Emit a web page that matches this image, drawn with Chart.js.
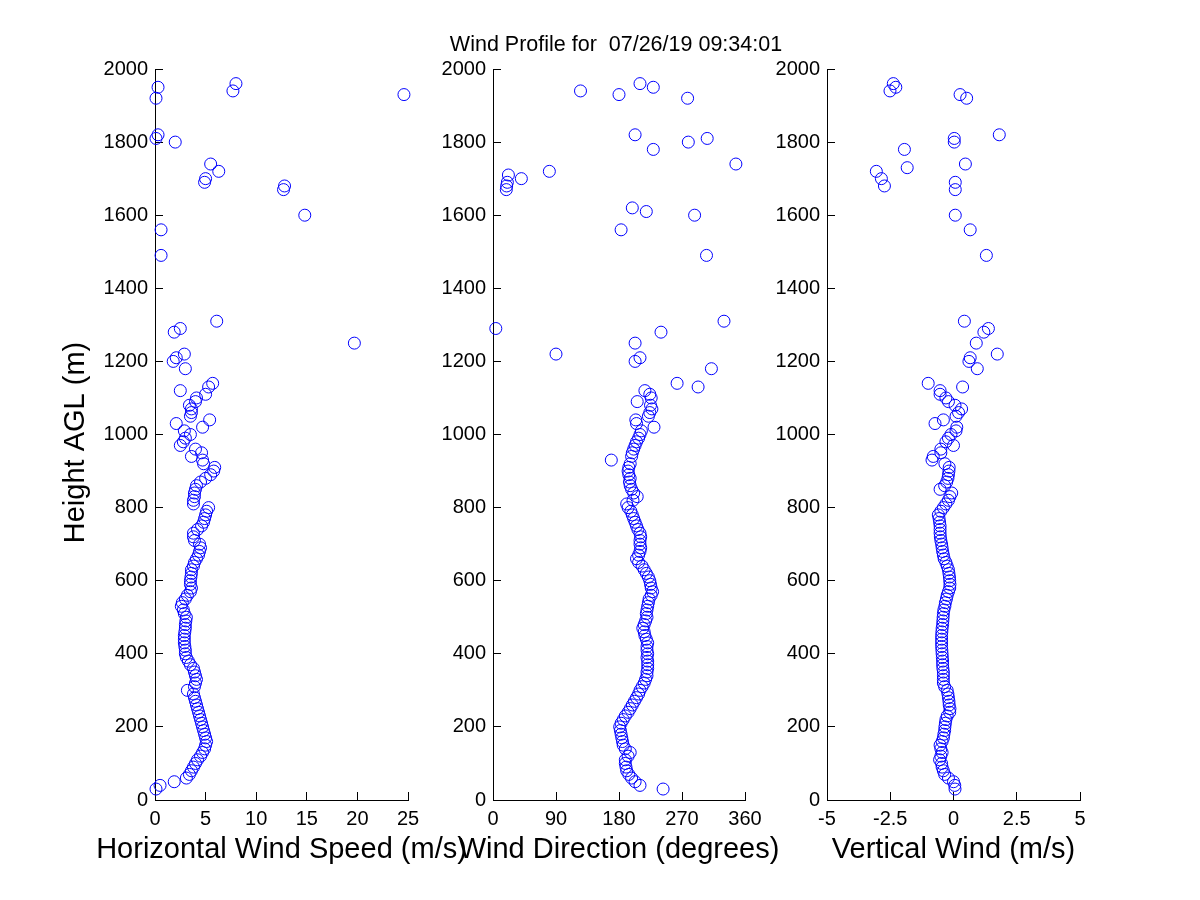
<!DOCTYPE html>
<html>
<head>
<meta charset="utf-8">
<script src="https://cdn.jsdelivr.net/npm/chart.js@4.4.1/dist/chart.umd.min.js"></script>
<style>
    body { margin: 0; background: #fff; }
    #wrap { position: relative; width: 1200px; height: 900px; }
    #wrap canvas { position: absolute; left: 0; top: 0; }
</style>
</head>
<body>
<div id="wrap">
    <canvas id="speedChart" width="1200" height="900"></canvas>
    <canvas id="dirChart" width="1200" height="900"></canvas>
    <canvas id="vertChart" width="1200" height="900"></canvas>
</div>
<script>
// Range gates of the dense lower profile (m AGL)
const lowHeights = [
    30, 40, 50, 60, 70, 80, 90, 100,
    110, 120, 130, 140, 150, 160, 170, 180, 190, 200,
    210, 220, 230, 240, 250, 260, 270, 280, 290, 300,
    310, 320, 330, 340, 350, 360, 370, 380, 390, 400,
    410, 420, 430, 440, 450, 460, 470, 480, 490, 500,
    510, 520, 530, 540, 550, 560, 570, 580, 590, 600,
    610, 620, 630, 640, 650, 660, 670, 680, 690, 700,
    710, 720, 730, 740, 750, 760, 770, 780, 790, 800,
    810, 820, 830, 840, 850, 860, 870, 880, 890, 900,
    910, 920, 930, 940, 950, 960, 970, 980, 990, 1000,
    1010, 1020, 1030, 1040, 1050, 1060, 1070, 1080, 1090, 1100,
    1110, 1120, 1130, 1140
];

// Horizontal wind speed (m/s)
const speedLow = [
    0.1, 0.5, 1.9, 3.1, 3.4, 3.6, 3.8, 4.0,
    4.2, 4.5, 4.7, 4.9, 5.0, 5.1, 5.0, 4.9, 4.8, 4.7,
    4.6, 4.5, 4.4, 4.3, 4.2, 4.1, 4.0, 3.9, 3.8, 3.2,
    3.9, 4.0, 4.1, 4.0, 3.9, 3.8, 3.5, 3.3, 3.1, 3.0,
    3.0, 2.95, 2.9, 2.9, 2.9, 2.95, 3.0, 3.0, 3.05, 3.1,
    2.9, 2.8, 2.6, 2.7, 3.0, 3.2, 3.5, 3.6, 3.5, 3.5,
    3.55, 3.6, 3.6, 3.8, 3.9, 4.1, 4.3, 4.4, 4.5, 4.4,
    3.9, 3.8, 3.8, 4.2, 4.6, 4.8, 4.9, 5.0, 5.1, 5.3,
    3.8, 3.8, 3.9, 3.9, 4.0, 4.1, 4.5, 5.0, 5.5, 5.8,
    5.9, 4.8, 4.7, 3.6, 4.6, 4.0, 2.5, 2.8, 3.0, 3.5,
    2.9, 4.7, 2.1, 5.4, 3.5, 3.6, 3.6, 3.4, 4.0, 4.1,
    5.0, 2.5, 5.3, 5.7
];
const speedHighHeights = [1180, 1200, 1210, 1220, 1250, 1280, 1290, 1310, 1490, 1560, 1600, 1670, 1680,
    1690, 1700, 1720, 1740, 1800, 1810, 1820, 1920, 1930, 1940, 1950, 1960];
const speedHigh = [3.0, 1.8, 2.1, 2.9, 19.7, 1.9, 2.5, 6.1, 0.6, 0.6, 14.8, 12.7, 12.8,
    4.9, 5.0, 6.3, 5.5, 2.0, 0.1, 0.3, 0.1, 24.6, 7.7, 0.3, 8.0];

// Wind direction (degrees)
const dirLow = [
    243, 210, 203, 198, 194, 191, 190, 189,
    189, 193, 196, 189, 186, 185, 184, 183, 182, 181,
    183, 186, 189, 193, 196, 199, 202, 205, 208, 210,
    213, 216, 218, 220, 220, 221, 221, 221, 220, 221,
    220, 220, 221, 219, 217, 216, 214, 216, 218, 220,
    219, 220, 221, 222, 223, 226, 228, 226, 225, 224,
    222, 219, 216, 213, 208, 205, 208, 210, 211, 210,
    210, 211, 210, 207, 205, 203, 201, 199, 197, 193,
    191, 200, 206, 201, 198, 196, 195, 196, 194, 193,
    194, 196, 169, 198, 199, 201, 203, 205, 208, 210,
    212, 230, 205, 204, 222, 224, 227, 225, 206, 226,
    224, 217, 293, 263
];
const dirHighHeights = [1180, 1200, 1210, 1220, 1250, 1280, 1290, 1310, 1490, 1560, 1600, 1610, 1620,
    1670, 1680, 1690, 1700, 1710, 1720, 1740, 1780, 1800, 1810, 1820, 1920, 1930, 1940, 1950, 1960];
const dirHigh = [312, 203, 210, 90, 203, 240, 4, 330, 305, 183, 288, 219, 199,
    19, 19.5, 20.5, 40.5, 22, 80.5, 347, 229, 279, 306, 203, 278, 180, 125, 229, 210];

// Vertical wind (m/s)
const vertLow = [
    0.06, 0.05, 0.0, -0.2, -0.35, -0.4, -0.45, -0.47,
    -0.55, -0.5, -0.45, -0.5, -0.53, -0.45, -0.4, -0.38, -0.35, -0.34,
    -0.32, -0.3, -0.25, -0.15, -0.14, -0.17, -0.18, -0.2, -0.22, -0.25,
    -0.35, -0.4, -0.4, -0.4, -0.4, -0.42, -0.43, -0.43, -0.44, -0.45,
    -0.46, -0.47, -0.47, -0.47, -0.47, -0.46, -0.45, -0.43, -0.42, -0.41,
    -0.4, -0.38, -0.34, -0.32, -0.28, -0.25, -0.2, -0.15, -0.14, -0.15,
    -0.16, -0.18, -0.2, -0.25, -0.3, -0.37, -0.4, -0.43, -0.45, -0.47,
    -0.5, -0.52, -0.53, -0.53, -0.53, -0.55, -0.57, -0.6, -0.5, -0.4,
    -0.3, -0.2, -0.14, -0.07, -0.53, -0.35, -0.27, -0.22, -0.2, -0.18,
    -0.17, -0.34, -0.85, -0.8, -0.5, -0.5, 0.0, -0.3, -0.2, -0.1,
    0.1, 0.13, -0.73, -0.4, 0.1, 0.2, 0.32, 0.06, -0.2, -0.3,
    -0.53, -0.53, 0.36, -1.0
];
const vertHighHeights = [1180, 1200, 1210, 1220, 1250, 1280, 1290, 1310, 1490, 1560, 1600, 1670, 1680,
    1690, 1700, 1720, 1730, 1740, 1780, 1800, 1810, 1820, 1920, 1930, 1940, 1950, 1960];
const vertHigh = [0.94, 0.61, 0.66, 1.73, 0.9, 1.2, 1.38, 0.43, 1.3, 0.66, 0.07, 0.07, -2.73,
    0.07, -2.85, -3.05, -1.83, 0.47, -1.94, 0.03, 0.03, 1.81, 0.52, 0.26, -2.51, -2.28, -2.38];

// Axis ranges and tick steps
const heightRange = [0, 2000];
const heightStep = 200;
const speedRange = [0, 25];
const dirRange = [0, 360];
const vertRange = [-5, 5];

const FONT = "'Liberation Sans', Arial, Helvetica, sans-serif";

function toPoints(heights, values) {
    return values.map(function(v, i) {
        return { x: v, y: heights[i] };
    });
}

// Axis titles and the figure title, drawn without the width squeeze Chart.js applies
const axisTextPlugin = {
    id: 'axisText',
    afterDraw: function(chart, args, opts) {
        const ctx = chart.ctx;
        const area = chart.chartArea;
        const midX = (area.left + area.right) / 2;
        ctx.save();
        ctx.fillStyle = '#000';
        ctx.textAlign = 'center';
        ctx.textBaseline = 'middle';
        if (opts.xTitle) {
            ctx.font = '29px ' + FONT;
            ctx.fillText(opts.xTitle, midX, area.bottom + 50);
        }
        if (opts.title) {
            ctx.font = '21.5px ' + FONT;
            ctx.fillText(opts.title, midX - 3, area.top - 24);
        }
        if (opts.yTitle) {
            ctx.font = '29px ' + FONT;
            ctx.translate(area.left - 79, (area.top + area.bottom) / 2 + 8);
            ctx.rotate(-Math.PI / 2);
            ctx.fillText(opts.yTitle, 0, 0);
        }
        ctx.restore();
    }
};

// one subplot = one scatter chart, the canvases are stacked on top of each other
function buildPanel(canvasId, cfg) {
    const ctx = document.getElementById(canvasId).getContext('2d');
    const points = toPoints(lowHeights, cfg.low).concat(toPoints(cfg.highHeights, cfg.high));

    new Chart(ctx, {
        type: 'scatter',
        data: {
            datasets: [{
                data: points,
                pointStyle: 'circle',
                pointRadius: 6,
                borderWidth: 1,
                borderColor: '#0000ff',
                backgroundColor: 'rgba(0,0,0,0)',
                clip: false
            }]
        },
        options: {
            responsive: false,
            animation: false,
            devicePixelRatio: 1,
            events: [],
            layout: { padding: cfg.padding },
            plugins: {
                legend: { display: false },
                tooltip: { enabled: false },
                axisText: {
                    xTitle: cfg.xTitle,
                    yTitle: cfg.yTitle,
                    title: cfg.title
                }
            },
            scales: {
                x: {
                    type: 'linear',
                    min: cfg.xRange[0],
                    max: cfg.xRange[1],
                    afterFit: function(scale) { scale.height = 70; },
                    border: { display: true, color: '#000', width: 1 },
                    grid: { drawOnChartArea: false, drawTicks: true, tickLength: -8, color: '#000' },
                    ticks: {
                        stepSize: cfg.xStep,
                        color: '#000',
                        padding: 15,
                        maxRotation: 0,
                        autoSkip: false,
                        font: { family: FONT, size: 20 },
                        callback: function(value) { return String(value); }
                    }
                },
                y: {
                    type: 'linear',
                    min: heightRange[0],
                    max: heightRange[1],
                    afterFit: function(scale) { scale.width = cfg.yWidth; },
                    border: { display: true, color: '#000', width: 1 },
                    grid: { drawOnChartArea: false, drawTicks: true, tickLength: -8, color: '#000' },
                    ticks: {
                        stepSize: heightStep,
                        color: '#000',
                        padding: 15,
                        autoSkip: false,
                        font: { family: FONT, size: 20 },
                        callback: function(value) { return String(value); }
                    }
                }
            }
        },
        plugins: [axisTextPlugin]
    });
}

buildPanel('speedChart', {
    low: speedLow, highHeights: speedHighHeights, high: speedHigh,
    xRange: speedRange, xStep: 5,
    xTitle: 'Horizontal Wind Speed (m/s)',
    yTitle: 'Height AGL (m)',
    yWidth: 105,
    padding: { left: 50, right: 792, top: 69, bottom: 30 }
});

buildPanel('dirChart', {
    low: dirLow, highHeights: dirHighHeights, high: dirHigh,
    xRange: dirRange, xStep: 90,
    xTitle: 'Wind Direction (degrees)',
    title: 'Wind Profile for  07/26/19 09:34:01',
    yWidth: 60,
    padding: { left: 433, right: 455, top: 69, bottom: 30 }
});

buildPanel('vertChart', {
    low: vertLow, highHeights: vertHighHeights, high: vertHigh,
    xRange: vertRange, xStep: 2.5,
    xTitle: 'Vertical Wind (m/s)',
    yWidth: 60,
    padding: { left: 767, right: 120, top: 69, bottom: 30 }
});
</script>
</body>
</html>
